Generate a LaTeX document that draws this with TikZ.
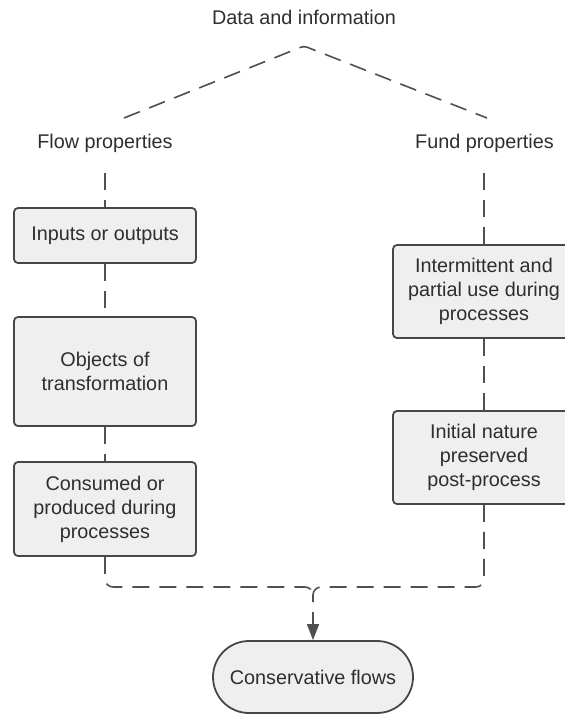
\documentclass[tikz,border=0pt]{standalone}
\usepackage{fontspec}
\setmainfont{Liberation Sans}
\usepackage{xcolor}
\usetikzlibrary{arrows.meta}

\definecolor{boxfill}{HTML}{EFEFEF}
\definecolor{boxline}{HTML}{474747}
\definecolor{linkgray}{HTML}{505050}
\definecolor{inkgray}{HTML}{2E2E2E}

\begin{document}
\begin{tikzpicture}[x=1pt, y=-1pt,
  every node/.style={font=\fontsize{19.8}{24}\selectfont, text=inkgray, align=center},
  propbox/.style={draw=boxline, fill=boxfill, line width=1.8pt, rounded corners=4pt, minimum width=182pt, inner sep=0pt},
  ending/.style={draw=boxline, fill=boxfill, line width=1.8pt, rounded corners=36pt, minimum width=200pt, minimum height=72pt},
  link/.style={draw=linkgray, line width=1.6pt, dash pattern=on 17pt off 10pt}]

\useasboundingbox (0,0) rectangle (565,716);

% Top label and the split
\node (data) at (304,17) {Data and information};
\coordinate (peak) at (304,46);
\coordinate (flowend) at (124,118);
\coordinate (fundend) at (487,118);
\draw[link, rounded corners=3pt] (flowend) -- (peak) -- (fundend);

% Flow side (left)
\node (flow) at (105,143) {Flow properties};
\coordinate (flowstem) at (105,173);
\node[propbox, minimum height=55pt] (inputs) at (105,235.5) {Inputs or outputs};
\node[propbox, minimum height=109pt] (objects) at (105,371.5) {Objects of\\transformation};
\node[propbox, minimum height=94pt] (consumed) at (105,509) {Consumed or\\produced during\\processes};
\draw[link] (flowstem) -- (inputs.north);
\draw[link] (inputs.south) -- (objects.north);
\draw[link] (objects.south) -- (consumed.north);

% Fund side (right)
\node (fund) at (484.5,143) {Fund properties};
\coordinate (fundstem) at (484,173);
\node[propbox, minimum height=93pt] (intermittent) at (484,291.5) {Intermittent and\\partial use during\\processes};
\node[propbox, minimum height=93pt] (initial) at (484,457.5) {Initial nature\\preserved\\post-process};
\draw[link] (fundstem) -- (intermittent.north);
\draw[link] (intermittent.south) -- (initial.north);

% Both sides join into the result
\node[ending] (conservative) at (313,677) {Conservative flows};
\coordinate (merge) at (313,587);
\coordinate (mergedown) at (313,602);
\draw[link, rounded corners=8pt]
  (consumed.south) -- (consumed.south |- merge) -- (merge) -- (mergedown);
\draw[link, rounded corners=8pt]
  (initial.south) -- (initial.south |- merge) -- (merge) -- (mergedown);
\draw[link, dash phase=17pt, -{Triangle[length=16pt, width=12pt]}] (mergedown) -- (conservative.north);

\end{tikzpicture}
\end{document}
